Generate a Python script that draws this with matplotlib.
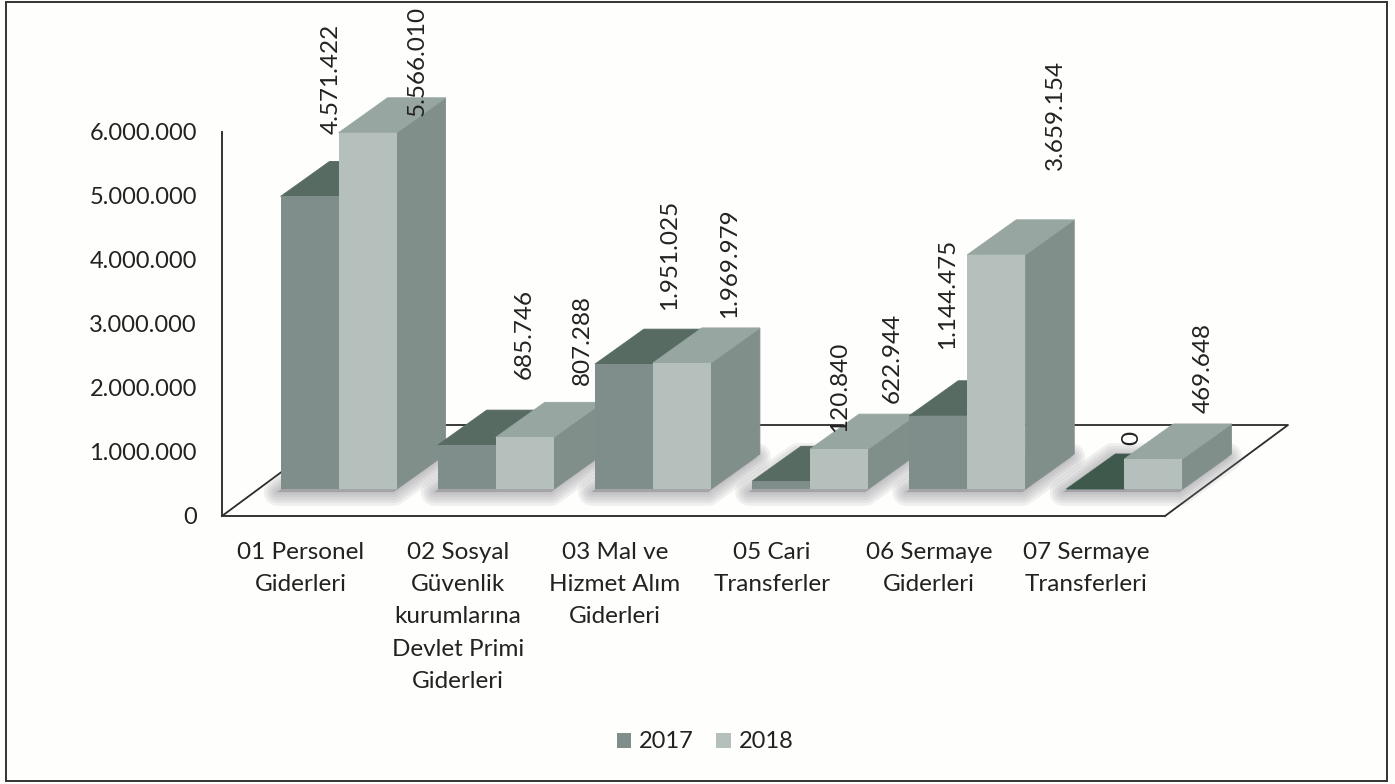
import numpy as np
from matplotlib import pyplot as plt
from matplotlib.patches import Polygon, Rectangle
from matplotlib.transforms import Affine2D

categories = ["01 Personel\nGiderleri", "02 Sosyal\nGüvenlik\nkurumlarına\nDevlet Primi\nGiderleri",
              "03 Mal ve\nHizmet Alım\nGiderleri", "05 Cari\nTransferler",
              "06 Sermaye\nGiderleri", "07 Sermaye\nTransferleri"]
values_2017 = [4571422, 685746, 1951025, 120840, 1144475, 0]
values_2018 = [5566010, 807288, 1969979, 622944, 3659154, 469648]
label_2017 = ["4.571.422", "685.746", "1.951.025", "120.840", "1.144.475", "0"]
label_2018 = ["5.566.010", "807.288", "1.969.979", "622.944", "3.659.154", "469.648"]
yticks = [0, 1000000, 2000000, 3000000, 4000000, 5000000, 6000000]
yticklabels = ["0", "1.000.000", "2.000.000", "3.000.000", "4.000.000", "5.000.000", "6.000.000"]

# label offsets from the bar top, pixels
offs_2017 = [(22, 62), (57, 66), (46, 54), (58, 49), (9, 67), (36, 44)]
offs_2018 = [(50, 17), (58, 52), (48, 45), (53, 46), (59, 85), (50, 46)]

plt.rcParams['font.family'] = ['Lato', 'DejaVu Sans']
W, H = 1395, 784
fig = plt.figure(figsize=(W / 100, H / 100), dpi=100, facecolor="#fefefc")
ax = fig.add_axes([222 / W, (H - 516) / H, 943 / W, 384 / H])
ax.set_facecolor("none")
ax.set_xlim(0, 6)
ax.set_ylim(0, 6000000)

px_x = 6 / 943
px_y = 6000000 / 384
bar_w = 58 * px_x
dep_x, dep_y = 49 * px_x, 35 * px_y
shift = ax.transData + Affine2D().translate(38, 27)

colors = {
    "2017": dict(front="#7f8e8a", top="#576b62", side="#7b8a86"),
    "2018": dict(front="#b5c0bc", top="#98a6a1", side="#818f8b"),
}


def face(pts, color, z):
    ax.add_patch(Polygon(pts, closed=True, facecolor=color, edgecolor=color, lw=0.6,
                         transform=shift, clip_on=False, zorder=z))


# floor
fl_x, fl_y = 123 * px_x, 91 * px_y
ax.plot([0, fl_x, 6 + fl_x, 6], [0, fl_y, fl_y, 0], color="#2b2b2b", lw=1.3, clip_on=False, zorder=1)

xpos = np.arange(6) + 0.5
bars = {}
z = 3
for i in range(6):
    # soft shadow round the group footprint
    x0, x1 = xpos[i] - bar_w, xpos[i] + bar_w
    foot = np.array([(x0, 0), (x1, 0), (x1 + dep_x, dep_y), (x0 + dep_x, dep_y)])
    foot = foot + [-3 * px_x, -3 * px_y]
    for lw in [20, 16, 12, 8, 4, 1]:
        ax.add_patch(Polygon(foot, closed=True, facecolor="#8d8d92", edgecolor="#8d8d92", lw=lw,
                             joinstyle="round", alpha=0.12, transform=shift, clip_on=False, zorder=2))

for i in range(6):
    for key, vals, side in (("2017", values_2017, -1), ("2018", values_2018, 1)):
        c = colors[key]
        v = vals[i]
        left = xpos[i] + (bar_w if side > 0 else 0) - bar_w
        right = left + bar_w
        top_color = c["top"] if v > 0 else "#3f5a4c"
        face([(right, 0), (right + dep_x, dep_y), (right + dep_x, v + dep_y), (right, v)], c["side"], z)
        face([(left, v), (right, v), (right + dep_x, v + dep_y), (left + dep_x, v + dep_y)], top_color, z)
        b = ax.bar(left + bar_w / 2, v, bar_w, color=c["front"], transform=shift, clip_on=False,
                   zorder=z, label=key)
        bars[key] = b
        z += 1

for i in range(6):
    for vals, labs, offs, side in ((values_2017, label_2017, offs_2017, -0.5), (values_2018, label_2018, offs_2018, 0.5)):
        ax.annotate(labs[i], xy=(xpos[i] + side * bar_w, vals[i]), xycoords=shift,
                    xytext=offs[i], textcoords="offset pixels", rotation=90, ha="center", va="bottom",
                    fontsize=17.5, color="#222222", zorder=100, annotation_clip=False)

ax.set_yticks(yticks)
ax.set_yticklabels(yticklabels, fontsize=17, color="#222222")
ax.set_xticks(xpos)
ax.set_xticklabels(categories, fontsize=17.5, color="#222222", linespacing=1.65)
ax.tick_params(axis="both", length=0)
ax.tick_params(axis="y", pad=18)
ax.tick_params(axis="x", pad=19)
for s in ["top", "right"]:
    ax.spines[s].set_visible(False)
for s in ["left", "bottom"]:
    ax.spines[s].set_color("#333333")
    ax.spines[s].set_linewidth(1.4)

fig.legend(handles=[bars["2017"], bars["2018"]], labels=["2017", "2018"], ncols=2, frameon=False,
           loc="center", bbox_to_anchor=(705 / W, (H - 742) / H), fontsize=17,
           handlelength=0.62, handleheight=0.62, handletextpad=0.32, columnspacing=0.95,
           labelcolor="#222222")

fig.add_artist(Rectangle((6 / W, (H - 781) / H), 1381 / W, 779 / H, transform=fig.transFigure,
                         facecolor="none", edgecolor="#333333", lw=1.4))

fig.savefig("out.png", dpi=100, facecolor=fig.get_facecolor())
